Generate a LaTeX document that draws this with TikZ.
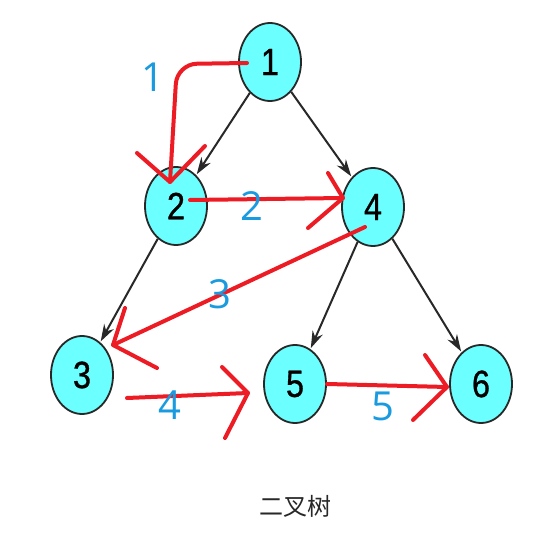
\documentclass[tikz,border=0pt]{standalone}
\usepackage{fontspec}
\setmainfont{Liberation Sans}
\newfontfamily\nodefont[FakeStretch=0.85,FakeBold=0.8]{Liberation Sans}
\newfontfamily\cjk{Noto Sans CJK SC}
\newfontfamily\lbl{Open Sans}
\usetikzlibrary{shapes.geometric,arrows.meta}
\definecolor{nodefill}{RGB}{108,255,255}
\definecolor{nodeline}{RGB}{40,40,40}
\definecolor{redpen}{RGB}{237,28,36}
\definecolor{bluelbl}{RGB}{26,155,224}
\tikzset{
  treenode/.style={ellipse,draw=nodeline,line width=1.8pt,fill=nodefill,
    minimum width=62pt,minimum height=78pt,inner sep=0pt,
    font=\nodefont\fontsize{38}{38}\selectfont},
  edge/.style={draw=nodeline,line width=2pt,-{Stealth[length=17pt,width=11pt]},shorten >=1pt},
  pen/.style={draw=redpen,line width=4pt,line cap=round,line join=round},
  steplabel/.style={text=bluelbl,font=\lbl\fontsize{40}{40}\selectfont,inner sep=0pt},
}
\begin{document}
\begin{tikzpicture}[x=1pt,y=-1pt]
\useasboundingbox[fill=white] (0,0) rectangle (558,548);
% nodes
\node[treenode] (n1) at (270,62) {1};
\node[treenode] (n2) at (176,206) {2};
\node[treenode] (n4) at (373,207) {4};
\node[treenode] (n3) at (82,375) {3};
\node[treenode] (n5) at (295,384) {5};
\node[treenode] (n6) at (481,384) {6};
% tree edges
\draw[edge] (n1) -- (n2);
\draw[edge] (n1) -- (n4);
\draw[edge] (n2) -- (n3);
\draw[edge] (n4) -- (n5);
\draw[edge] (n4) -- (n6);
% caption
\node[text=nodeline,font=\cjk\fontsize{24}{24}\selectfont] (cap) at (295,506) {二叉树};
% red traversal strokes
\coordinate (a1s) at (247,63);
\coordinate (a1e) at (170,182);
\draw[pen,rounded corners=20pt] (a1s) -- (177,64) -- (a1e);
\draw[pen] (137,153) -- (a1e) -- (205,146);
\node[steplabel] (l1) at (153,77) {1};

\coordinate (a2s) at (190,200);
\coordinate (a2e) at (343,198);
\draw[pen] (a2s) -- (a2e);
\draw[pen] (328,173) -- (a2e) -- (308,228);
\node[steplabel] (l2) at (252,206) {2};

\coordinate (a3s) at (365,227);
\coordinate (a3e) at (113,345);
\draw[pen] (a3s) -- (a3e);
\draw[pen] (125,308) -- (a3e) -- (157,368);
\node[steplabel] (l3) at (220,294) {3};

\coordinate (a4s) at (127,398);
\coordinate (a4e) at (248,393);
\draw[pen] (a4s) -- (a4e);
\draw[pen] (222,367) -- (a4e) -- (225,438);
\node[steplabel] (l4) at (170,405) {4};

\coordinate (a5s) at (327,384);
\coordinate (a5e) at (447,387);
\draw[pen] (a5s) -- (a5e);
\draw[pen] (425,355) -- (a5e) -- (413,420);
\node[steplabel] (l5) at (383,406) {5};
\end{tikzpicture}
\end{document}
